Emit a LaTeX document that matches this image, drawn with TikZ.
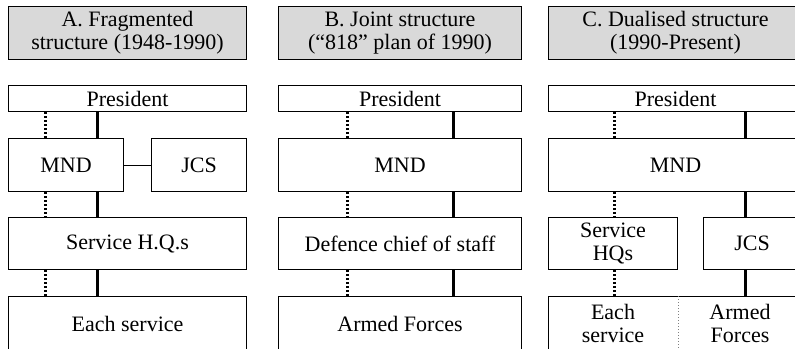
\documentclass[tikz,border=0pt]{standalone}
\usepackage{fontspec}
\setmainfont{Liberation Serif}
\usetikzlibrary{positioning, calc}
\definecolor{hdrGray}{HTML}{D9D9D9}

\begin{document}
\begin{tikzpicture}[
  x=0.5pt, y=-0.5pt,
  box/.style={draw, line width=0.5pt, inner sep=0pt, anchor=north west,
              align=center, font=\rmfamily\fontsize{11}{11.6}\selectfont},
  hdr/.style={box, fill=hdrGray, minimum height=26.5pt},
  txt/.style={box, draw=none},
  solidlink/.style={line width=1.5pt},
  dotlink/.style={line width=1.5pt, dash pattern=on 1.2pt off 0.8pt},
  thinlink/.style={line width=0.5pt},
  split/.style={line width=0.5pt, gray, densely dotted}
]
  \useasboundingbox (0,0) rectangle (795,348);
  \clip (0,0) rectangle (795,348);

  % headers
  \node[hdr, minimum width=119pt] (hdrA) at (8,6) {A. Fragmented\\structure (1948-1990)};
  \node[hdr, minimum width=121.5pt] (hdrB) at (278,6) {B. Joint structure\\(“818” plan of 1990)};
  \node[hdr, minimum width=127pt] (hdrC) at (548,6) {C. Dualised structure\\(1990-Present)};

  % A. fragmented
  \node[box, minimum width=119pt, minimum height=13pt] (presA) at (8,85) {President};
  \node[box, minimum width=57.5pt, minimum height=26.5pt] (mndA) at (8,138) {MND};
  \node[box, minimum width=47.5pt, minimum height=26.5pt] (jcsA) at (151,138) {JCS};
  \node[box, minimum width=119pt, minimum height=26pt] (shqA) at (8,217) {Service H.Q.s};
  \node[box, minimum width=119pt, minimum height=27pt] (eachA) at (8,296) {Each service};

  % B. joint
  \node[box, minimum width=121.5pt, minimum height=13pt] (presB) at (278,85) {President};
  \node[box, minimum width=121.5pt, minimum height=26.5pt] (mndB) at (278,138) {MND};
  \node[box, minimum width=121.5pt, minimum height=26pt] (dcsB) at (278,217) {Defence chief of staff};
  \node[box, minimum width=121.5pt, minimum height=27pt] (armB) at (278,296) {Armed Forces};

  % C. dualised
  \node[box, minimum width=127pt, minimum height=13pt] (presC) at (548,85) {President};
  \node[box, minimum width=127pt, minimum height=26.5pt] (mndC) at (548,138) {MND};
  \node[box, minimum width=64.5pt, minimum height=26pt] (shqC) at (548,217) {Service\\HQs};
  \node[box, minimum width=48.5pt, minimum height=26pt] (jcsC) at (703,217) {JCS};
  \node[box, minimum width=127pt, minimum height=27pt] (rowC) at (548,296) {};
  \node[txt, minimum width=64.5pt, minimum height=27pt] (eachC) at (548,296) {Each\\service};
  \node[txt, minimum width=62.5pt, minimum height=27pt] (armC) at (677,296) {Armed\\Forces};
  \draw[split] (eachC.north east) -- (eachC.south east);

  % link columns
  \coordinate (dA) at (45,0);
  \coordinate (sA) at (97,0);
  \coordinate (dB) at (347,0);
  \coordinate (sB) at (453,0);
  \coordinate (dC) at (614,0);
  \coordinate (sC) at (745,0);

  \foreach \up/\low in {presA/mndA, mndA/shqA, shqA/eachA} {
    \draw[dotlink] (\up.south -| dA) -- (\low.north -| dA);
    \draw[solidlink] (\up.south -| sA) -- (\low.north -| sA);
  }
  \draw[thinlink] (mndA) -- (jcsA);

  \foreach \up/\low in {presB/mndB, mndB/dcsB, dcsB/armB} {
    \draw[dotlink] (\up.south -| dB) -- (\low.north -| dB);
    \draw[solidlink] (\up.south -| sB) -- (\low.north -| sB);
  }

  \draw[dotlink] (presC.south -| dC) -- (mndC.north -| dC);
  \draw[solidlink] (presC.south -| sC) -- (mndC.north -| sC);
  \draw[dotlink] (mndC.south -| dC) -- (shqC.north -| dC);
  \draw[solidlink] (mndC.south -| sC) -- (jcsC.north -| sC);
  \draw[dotlink] (shqC.south -| dC) -- (rowC.north -| dC);
  \draw[solidlink] (jcsC.south -| sC) -- (rowC.north -| sC);
\end{tikzpicture}
\end{document}
